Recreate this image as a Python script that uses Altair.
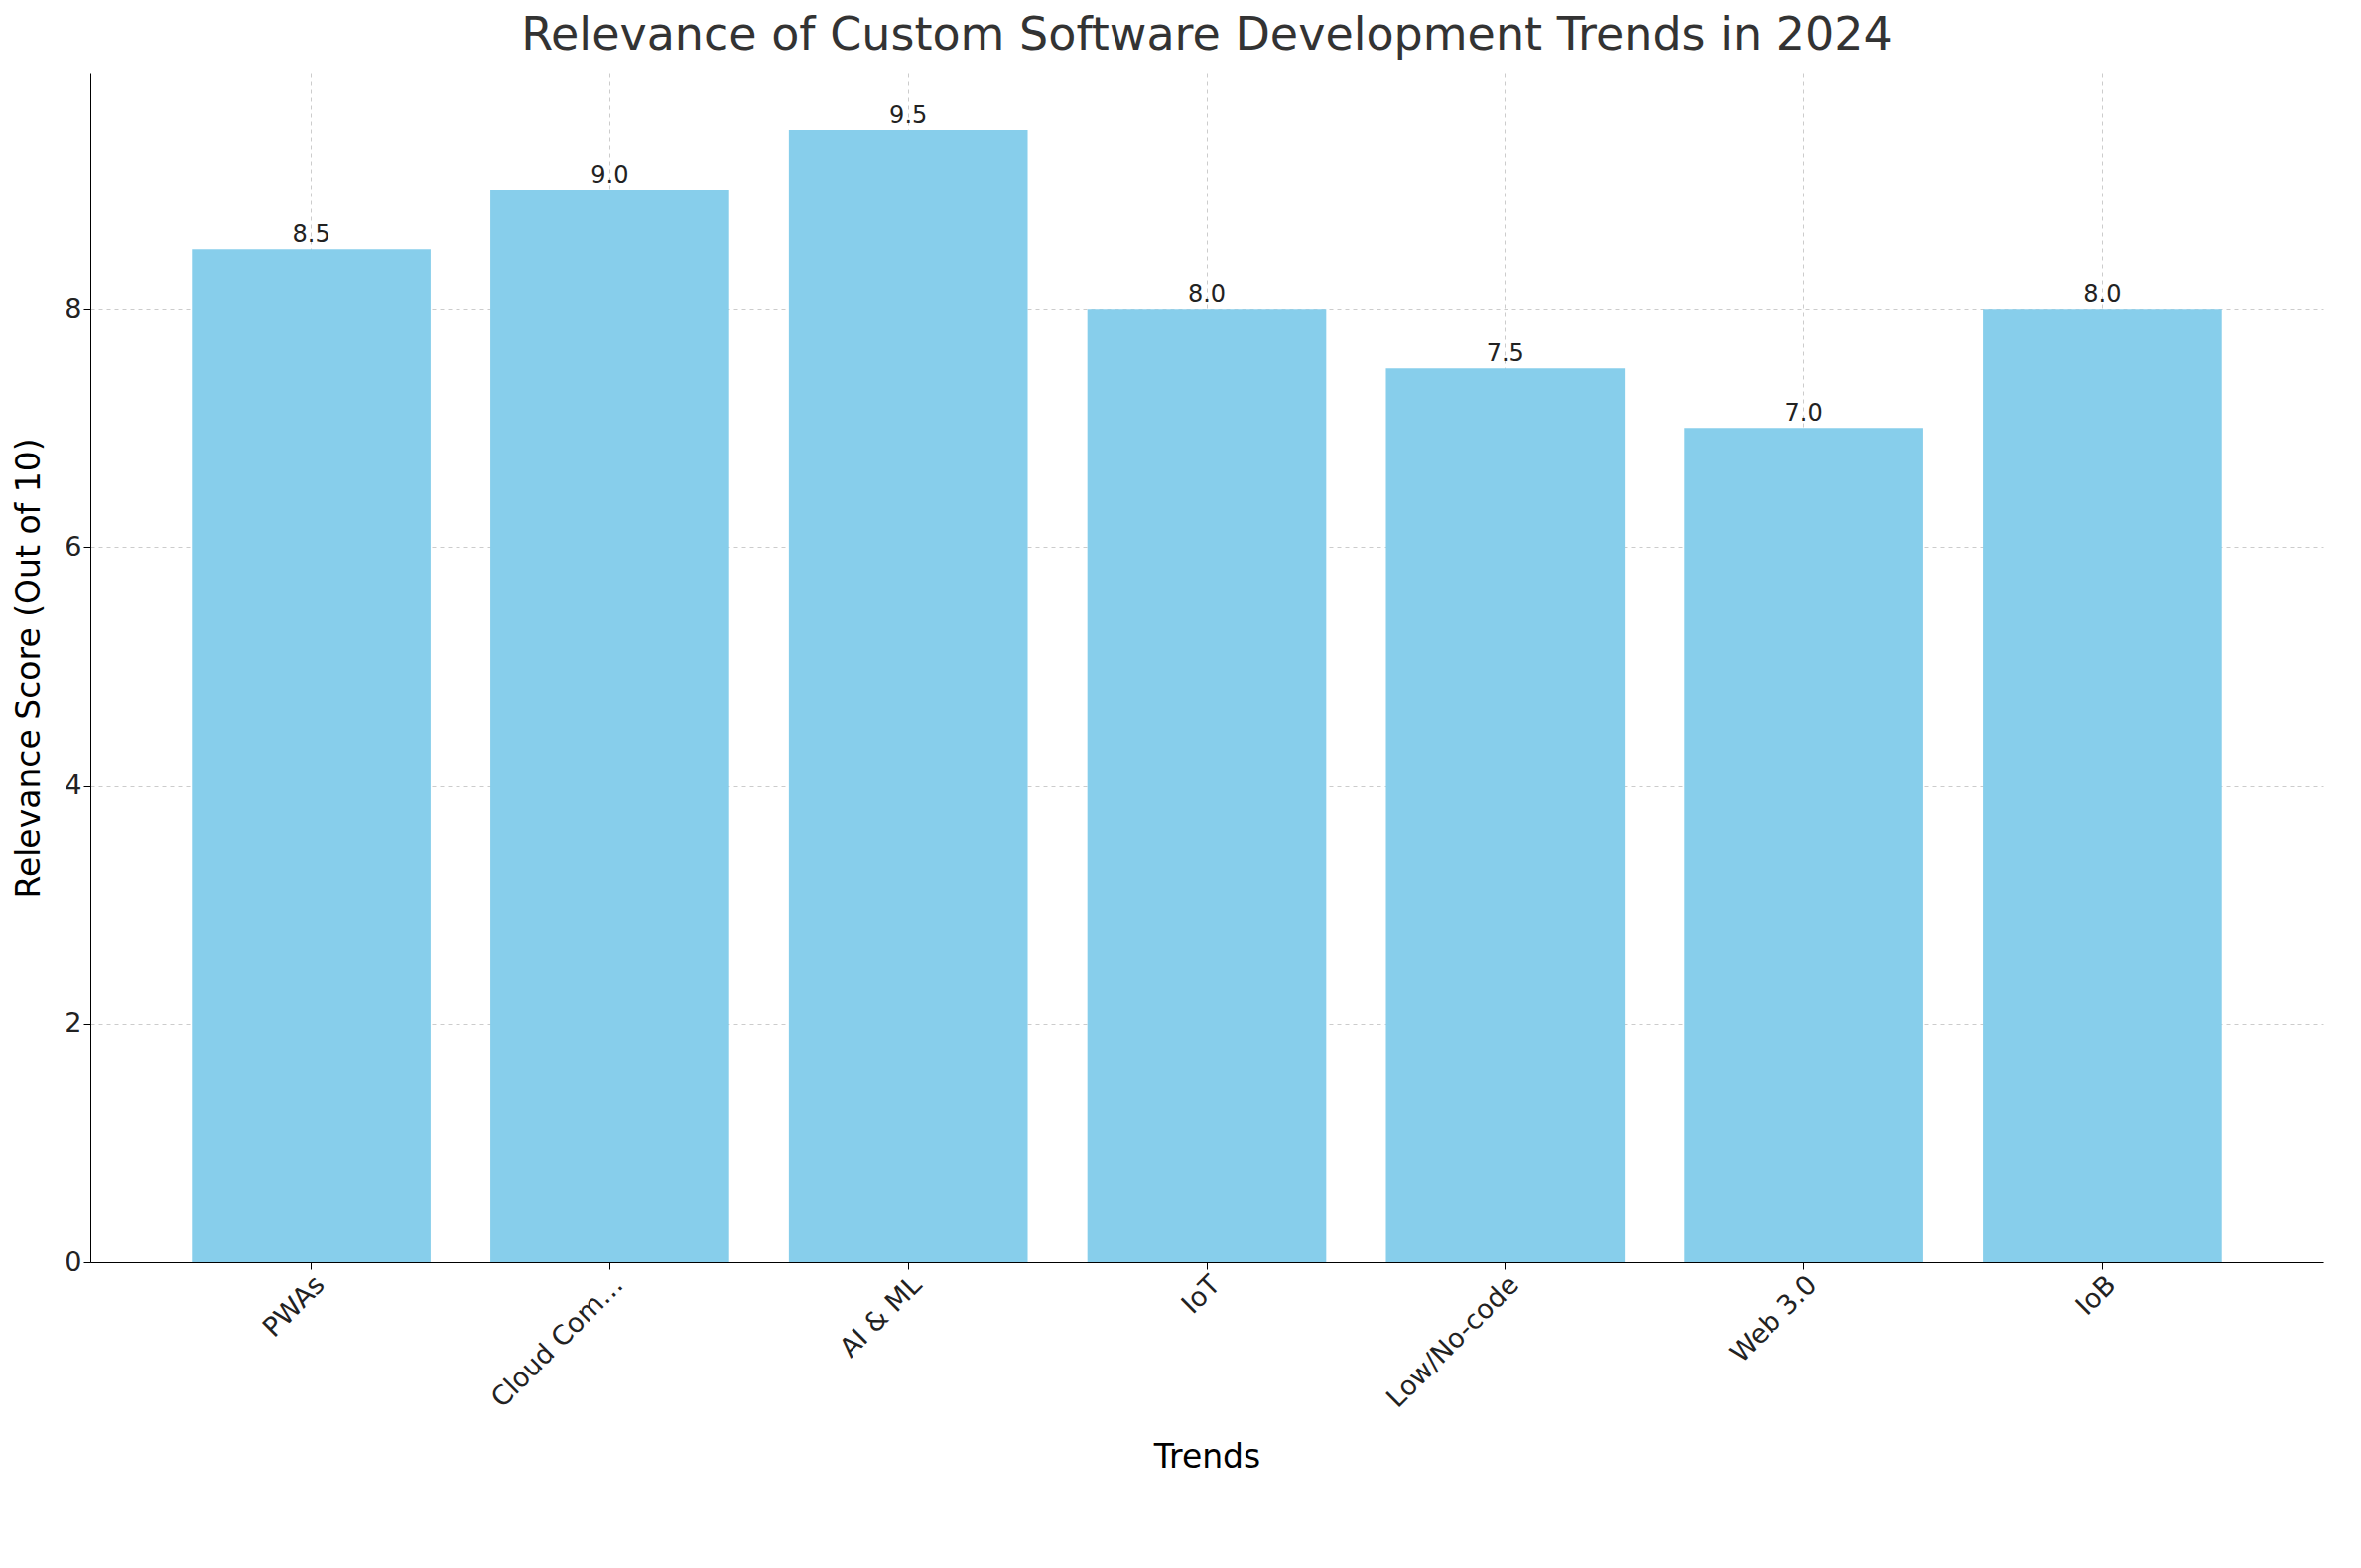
import altair as alt
import pandas as pd

trends = ["PWAs", "Cloud Computing", "AI & ML", "IoT", "Low/No-code", "Web 3.0", "IoB"]
scores = [8.5, 9.0, 9.5, 8.0, 7.5, 7.0, 8.0]

df = pd.DataFrame({"trend": trends, "score": scores})
df["label"] = df["score"].map(lambda v: f"{v:.1f}")

FONT = "DejaVu Sans"

base = alt.Chart(df).encode(
    x=alt.X(
        "trend:N",
        sort=trends,
        title="Trends",
        scale=alt.Scale(paddingInner=0.2, paddingOuter=0.34),
        axis=alt.Axis(
            labelAngle=315, labelAlign="right", labelBaseline="top",
            labelFontSize=27, titleFontSize=33, titleFontWeight="normal",
            titlePadding=30, grid=True, gridDash=[4, 4], gridColor="#cccccc",
            tickSize=7, domainColor="black", tickColor="black", labelColor="#222",
        ),
    ),
    y=alt.Y(
        "score:Q",
        title="Relevance Score (Out of 10)",
        scale=alt.Scale(domain=[0, 9.975], nice=False),
        axis=alt.Axis(
            values=[0, 2, 4, 6, 8], labelFontSize=27, titleFontSize=33,
            titleFontWeight="normal", titlePadding=18, grid=True, gridDash=[4, 4],
            gridColor="#cccccc", tickSize=7, domainColor="black", tickColor="black",
            labelColor="#222",
        ),
    ),
)

bars = base.mark_bar(color="#87ceeb")
text = base.mark_text(baseline="bottom", dy=-2, fontSize=24, font=FONT, color="#222").encode(
    text="label:N"
)

chart = (
    (bars + text)
    .properties(
        width=2250,
        height=1198,
        title=alt.Title(
            "Relevance of Custom Software Development Trends in 2024",
            fontSize=46, fontWeight="normal", font=FONT, color="#333", offset=14,
        ),
    )
    .configure(font=FONT)
    .configure_view(stroke=None)
    .configure_axis(labelFont=FONT, titleFont=FONT)
)

chart.save("out.html", embed_options={"renderer": "svg", "actions": False})
